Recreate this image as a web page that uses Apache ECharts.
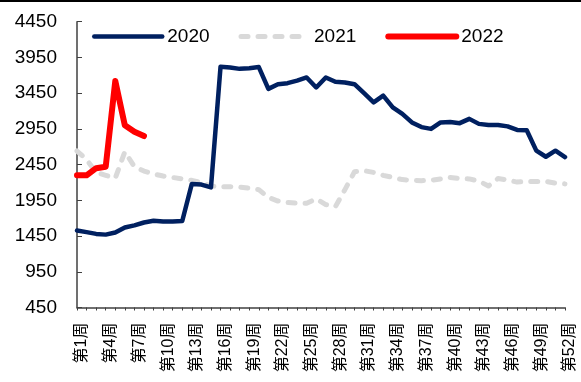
<!DOCTYPE html>
<html>
<head>
<meta charset="utf-8">
<script src="https://cdn.jsdelivr.net/npm/echarts@6/dist/echarts.min.js"></script>
<style>
html,body{margin:0;padding:0;background:#fff;}
#c{width:581px;height:382px;}
</style>
</head>
<body>
<div id="c"></div>
<script>
const categories = ['第1周','第2周','第3周','第4周','第5周','第6周','第7周','第8周','第9周','第10周',
'第11周','第12周','第13周','第14周','第15周','第16周','第17周','第18周','第19周','第20周',
'第21周','第22周','第23周','第24周','第25周','第26周','第27周','第28周','第29周','第30周',
'第31周','第32周','第33周','第34周','第35周','第36周','第37周','第38周','第39周','第40周',
'第41周','第42周','第43周','第44周','第45周','第46周','第47周','第48周','第49周','第50周',
'第51周','第52周'];
const seriesNames = ['2020','2021','2022'];
const values2020 = [1527,1505,1480,1470,1500,1570,1600,1640,1665,1655,
1655,1660,2180,2170,2130,3820,3810,3790,3800,3815,
3510,3575,3590,3625,3670,3530,3670,3610,3600,3575,
3450,3320,3415,3250,3160,3040,2975,2950,3040,3045,
3030,3090,3020,3005,3005,2985,2935,2930,2645,2560,
2645,2555];
const values2021 = [2640,2520,2340,2300,2260,2630,2420,2360,2320,2290,
2270,2250,2230,2200,2150,2140,2140,2135,2120,2100,
1990,1940,1920,1910,1910,1970,1890,1860,2100,2350,
2365,2340,2300,2270,2240,2230,2225,2230,2250,2270,
2255,2250,2220,2150,2255,2235,2205,2215,2215,2215,
2190,2180];
const values2022 = [2300,2300,2400,2420,3620,3000,2910,2850];
const yTicks = {min:450, max:4450, step:500};

const font = "'Liberation Sans', Arial, 'Noto Sans CJK SC', sans-serif";
const chart = echarts.init(document.getElementById('c'), null, {renderer:'canvas'});
chart.setOption({
  animation:false,
  backgroundColor:'#fff',
  graphic:[{type:'rect', left:0, top:0, shape:{width:581, height:2}, style:{fill:'#000'}}],
  legend:{
    left:92, top:27, padding:0, itemWidth:68, itemHeight:14, itemGap:29,
    itemStyle:{opacity:0},
    lineStyle:{width:'inherit', cap:'round'},
    textStyle:{fontSize:19, color:'#000', fontFamily:font},
    data:seriesNames
  },
  grid:{left:77, right:16, top:21.7, bottom:74.5, containLabel:false},
  xAxis:{
    type:'category', data:categories, boundaryGap:false,
    axisLine:{lineStyle:{color:'#404040', width:1.5}},
    axisTick:{show:true, interval:0, length:3, lineStyle:{color:'#404040'}},
    axisLabel:{interval:2, rotate:90, fontSize:16, color:'#000', margin:15, fontFamily:font,
      verticalAlign:'top', lineHeight:10}
  },
  yAxis:{
    type:'value', min:yTicks.min, max:yTicks.max, interval:yTicks.step,
    splitLine:{show:false},
    axisLine:{show:true, lineStyle:{color:'#404040', width:1.5}},
    axisTick:{show:true, inside:true, length:5, lineStyle:{color:'#404040'}},
    axisLabel:{fontSize:19, color:'#000', margin:20, fontFamily:font, formatter:function(v){return String(v);}}
  },
  series:[
    {name:seriesNames[0], type:'line', data:values2020, symbol:'none', z:3,
     lineStyle:{color:'#002060', width:4.5, join:'round', cap:'round'}, itemStyle:{color:'#002060'}},
    {name:seriesNames[1], type:'line', data:values2021, symbol:'none', z:2,
     lineStyle:{color:'#D9D9D9', width:5, type:[7,10], cap:'round', join:'round'}, itemStyle:{color:'#D9D9D9'}},
    {name:seriesNames[2], type:'line', data:values2022, symbol:'none', z:4,
     lineStyle:{color:'#FF0000', width:6, join:'round', cap:'round'}, itemStyle:{color:'#FF0000'}}
  ]
});
</script>
</body>
</html>
